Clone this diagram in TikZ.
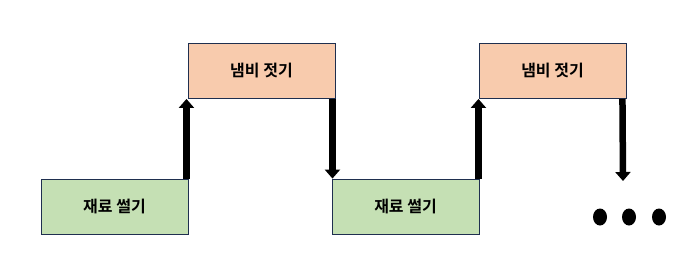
\documentclass[tikz,border=0pt]{standalone}
\usepackage{fontspec}
\newfontfamily\kr{Noto Sans CJK KR}[BoldFont={* Bold}]
\usetikzlibrary{arrows.meta,shapes.geometric}
\definecolor{greenfill}{HTML}{C5E0B4}
\definecolor{orangefill}{HTML}{F8CBAD}
\definecolor{boxline}{HTML}{1F2F4F}
\tikzset{
  box/.style={draw=boxline, line width=0.9pt, minimum width=147pt, minimum height=55pt, inner sep=0pt, font=\kr\fontsize{16}{18}\selectfont\bfseries, text=black},
  cutbox/.style={box, fill=greenfill},
  stirbox/.style={box, fill=orangefill},
  flow/.style={draw=black, line width=6.5pt, -{Triangle[width=15pt,length=9pt]}},
  dot/.style={ellipse, fill=black, minimum width=14pt, minimum height=17pt, inner sep=0pt},
}
\begin{document}
\begin{tikzpicture}[x=1pt,y=-1pt]
\useasboundingbox (0,0) rectangle (698,260);
\node[cutbox] (b1) at (114.5,206.5) {재료 썰기};
\node[stirbox] (b2) at (261.5,71) {냄비 젓기};
\node[cutbox] (b3) at (405.5,206.5) {재료 썰기};
\node[stirbox] (b4) at (552.5,71) {냄비 젓기};
\coordinate (end4) at (623,181);
\coordinate (s1) at ([xshift=-2pt]b1.north east);
\coordinate (s2) at ([xshift=-3pt]b2.south east);
\coordinate (s3) at ([xshift=-1pt]b3.north east);
\coordinate (s4) at ([xshift=-4pt]b4.south east);
\draw[flow] (s1) -- (s1 |- b2.south);
\draw[flow] (s2) -- (s2 |- b3.north);
\draw[flow] (s3) -- (s3 |- b4.south);
\draw[flow] (s4) -- (end4);
\node[dot] (d1) at (600,217) {};
\node[dot] (d2) at (629,217) {};
\node[dot] (d3) at (659,217) {};
\end{tikzpicture}
\end{document}
